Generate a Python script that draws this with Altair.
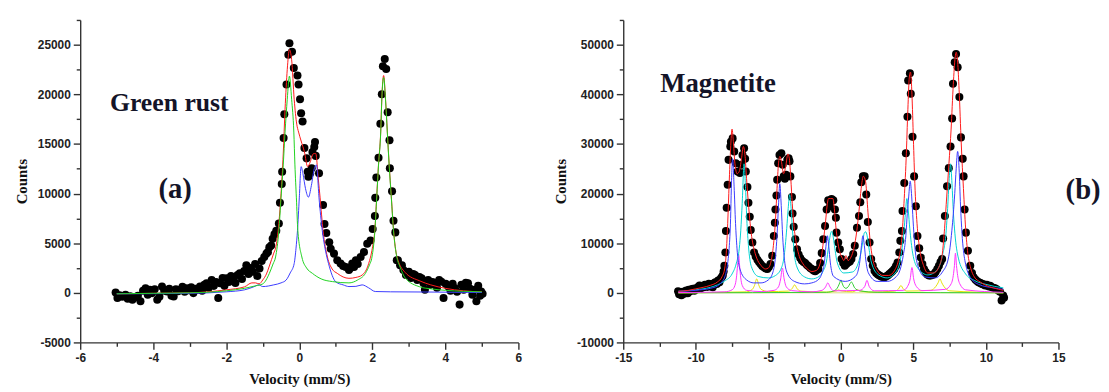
import altair as alt
import pandas as pd

# ---------------- Panel (a): Green rust ----------------
gr_v = [-5.03,-4.98,-4.92,-4.85,-4.76,-4.70,-4.63,-4.57,-4.50,-4.42,
        -4.35,-4.28,-4.21,-4.15,-4.09,-4.03,-3.96,-3.89,-3.83,-3.76,
        -3.70,-3.62,-3.56,-3.50,-3.44,-3.38,-3.32,-3.26,-3.20,-3.14,
        -3.08,-3.02,-2.96,-2.90,-2.84,-2.78,-2.72,-2.66,-2.60,-2.54,
        -2.48,-2.40,-2.34,-2.28,-2.22,-2.17,-2.10,-2.05,-1.99,-1.93,
        -1.87,-1.81,-1.75,-1.69,-1.63,-1.57,-1.51,-1.45,-1.39,-1.33,
        -1.27,-1.21,-1.15,-1.09,-1.03,-0.96,-0.90,-0.86,-0.82,-0.77,
        -0.73,-0.68,-0.63,-0.56,-0.53,-0.48,-0.47,-0.43,-0.41,-0.35,
        -0.30,-0.27,-0.20,-0.15,-0.05,-0.02,0.02,0.05,0.09,0.14,
        0.20,0.23,0.25,0.30,0.34,0.36,0.41,0.43,0.45,0.54,
        0.65,0.69,0.74,0.82,0.86,0.95,1.04,1.13,1.20,1.27,
        1.36,1.40,1.45,1.50,1.55,1.60,1.68,1.77,1.86,1.95,
        2.01,2.07,2.08,2.11,2.17,2.22,2.26,2.29,2.34,2.38,
        2.42,2.47,2.48,2.54,2.58,2.63,2.67,2.70,2.76,2.81,
        2.85,2.92,3.00,3.06,3.12,3.17,3.23,3.29,3.35,3.40,
        3.44,3.48,3.53,3.59,3.65,3.71,3.77,3.83,3.89,3.95,
        4.01,4.08,4.14,4.20,4.26,4.32,4.39,4.44,4.50,4.56,
        4.62,4.68,4.74,4.80,4.85,4.90,4.95,4.98,5.02]
gr_counts = [30,-530,-250,-400,-200,-600,-350,-700,-450,-300,
             -860,200,470,-200,300,-30,350,-700,-400,630,
             200,130,400,-300,-370,350,150,300,600,100,
             470,250,550,-30,400,300,630,200,800,960,
             500,1290,700,1100,-530,960,1500,700,1460,1100,
             1700,1290,1000,1800,1960,1400,2200,2780,1900,2500,
             2120,2900,1700,2450,3200,3600,3950,4100,4600,4770,
             5440,5900,6260,6990,9080,10960,12200,15600,18000,21000,
             24000,25150,24300,22660,21900,21000,19500,18100,17260,14600,
             13550,12200,11700,12050,12550,14200,14700,15200,13800,12050,
             8850,6930,6030,5100,4440,3950,3280,2950,2700,2610,
             2290,2500,2950,2600,3280,2900,3610,4100,4940,5270,
             6430,7750,9570,11630,13620,17030,20010,22830,23560,22560,
             18190,15380,12550,10240,7260,6090,3280,3280,2780,2780,
             2290,1790,2120,1500,1900,1790,1300,1600,1460,1000,
             300,1200,1290,800,1100,960,500,1300,1120,-530,
             900,630,200,900,470,100,-1190,800,300,1000,
             960,400,-200,300,-860,700,-300,130,-100]

gr_red_v = [-5.0,-4.0,-3.0,-2.0,-1.5,-1.3,-1.2,-1.1,-1.0,-0.9,
            -0.82,-0.7,-0.65,-0.56,-0.5,-0.44,-0.39,-0.33,-0.27,-0.21,
            -0.14,-0.07,-0.02,0.05,0.14,0.23,0.3,0.38,0.45,0.52,
            0.57,0.65,0.77,0.9,1.04,1.2,1.36,1.55,1.72,1.9,
            2.0,2.07,2.12,2.17,2.23,2.26,2.31,2.36,2.41,2.46,
            2.52,2.58,2.67,2.9,3.3,3.6,4.0,4.5,5.0]
gr_red_c = [-100,-50,0,300,600,1000,1000,900,1300,1900,
            2700,4000,4500,7000,10000,14000,18500,22500,24500,23500,
            19500,17000,16200,15300,14200,12700,13200,14000,14050,11500,
            9570,6260,3610,2400,1960,1600,1460,1550,1790,2950,
            4500,6400,9700,13000,16300,19600,21900,19600,16300,13000,
            9700,6400,3700,2050,1200,800,450,200,100]

gr_green_v = [-5.0,-4.0,-3.0,-2.0,-1.5,-1.2,-1.0,-0.82,-0.72,-0.65,
              -0.56,-0.5,-0.44,-0.39,-0.33,-0.27,-0.21,-0.15,-0.12,-0.08,
              -0.04,0.07,0.2,0.36,0.6,0.91,1.36,1.6,1.81,1.92,
              1.99,2.07,2.12,2.17,2.23,2.26,2.31,2.36,2.41,2.46,
              2.52,2.58,2.67,2.76,2.9,3.3,3.6,4.0,4.5,5.0]
gr_green_c = [-100,-50,0,200,450,700,900,1960,2900,3610,
              6260,9570,12890,16200,19510,21840,19510,16200,12890,9570,
              6260,3610,2500,1960,1400,1130,1000,1300,1960,2800,
              3610,6260,9570,12890,16200,19510,21700,19510,16200,12890,
              9570,6260,3610,2600,1500,600,400,250,150,100]

gr_blue_v = [-5.0,-3.0,-2.0,-1.5,-1.25,-1.11,-1.0,-0.7,-0.5,-0.36,
             -0.25,-0.14,-0.09,-0.05,0.0,0.05,0.1,0.17,0.25,0.33,
             0.41,0.47,0.54,0.63,0.72,0.8,1.0,1.2,1.36,1.55,
             1.72,1.9,2.08,2.5,3.5,5.0]
gr_blue_c = [-100,-50,100,300,600,800,630,800,1000,1290,
             2000,2950,4500,6260,9570,12720,12000,10500,9640,10800,
             12500,12890,9570,6260,4200,2950,1100,800,630,650,
             800,500,130,100,80,30]

# ---------------- Panel (b): Magnetite ----------------
mg_v = [-11.22,-11.15,-11.05,-10.99,-10.90,-10.80,-10.72,-10.65,-10.55,-10.48,
        -10.40,-10.30,-10.19,-10.10,-10.00,-9.90,-9.82,-9.74,-9.65,-9.55,
        -9.45,-9.37,-9.28,-9.20,-9.10,-9.00,-8.92,-8.83,-8.75,-8.65,
        -8.55,-8.46,-8.37,-8.28,-8.20,-8.14,-8.08,-8.03,-7.96,-7.92,
        -7.87,-7.80,-7.74,-7.62,-7.58,-7.46,-7.35,-7.24,-7.12,-6.96,
        -6.87,-6.78,-6.67,-6.60,-6.55,-6.44,-6.37,-6.28,-6.21,-6.10,
        -5.98,-5.87,-5.75,-5.64,-5.53,-5.42,-5.30,-5.18,-5.07,-4.96,
        -4.85,-4.73,-4.62,-4.55,-4.51,-4.44,-4.39,-4.32,-4.23,-4.10,
        -4.01,-3.94,-3.86,-3.78,-3.69,-3.60,-3.54,-3.48,-3.37,-3.33,
        -3.25,-3.14,-3.02,-2.91,-2.80,-2.69,-2.57,-2.46,-2.34,-2.23,
        -2.11,-2.00,-1.88,-1.77,-1.66,-1.55,-1.43,-1.32,-1.21,-1.09,
        -0.98,-0.87,-0.75,-0.64,-0.52,-0.41,-0.34,-0.30,-0.18,-0.07,
        0.05,0.16,0.27,0.38,0.50,0.62,0.73,0.85,0.96,1.11,
        1.25,1.34,1.41,1.52,1.64,1.75,1.86,1.98,2.09,2.20,
        2.32,2.43,2.55,2.66,2.78,2.89,3.00,3.11,3.23,3.34,
        3.46,3.57,3.69,3.80,3.91,4.03,4.10,4.21,4.25,4.37,
        4.48,4.59,4.64,4.76,4.82,4.94,5.05,5.17,5.28,5.40,
        5.51,5.62,5.73,5.85,5.96,6.08,6.19,6.31,6.42,6.53,
        6.65,6.76,6.87,6.98,7.05,7.17,7.32,7.44,7.56,7.67,
        7.73,7.85,7.94,8.05,8.17,8.28,8.40,8.46,8.53,8.62,
        8.76,8.92,9.04,9.15,9.27,9.38,9.49,9.60,9.72,9.83,
        9.95,10.06,10.17,10.29,10.40,10.51,10.63,10.74,10.85,10.97,
        11.08,11.19,11.25]
mg_counts = [300,-300,100,-500,200,-200,300,470,-100,600,
             300,700,800,400,900,700,1200,1470,900,1300,
             1100,1600,1470,1200,1800,1300,1700,1130,1900,2100,
             1800,2500,2130,2900,3200,3470,4300,5470,8130,12470,
             17130,21800,26800,29500,30470,31130,28500,26130,24470,24130,
             25800,27800,29130,27000,24470,21330,18130,15330,12670,10130,
             8130,7300,6670,6200,5800,5400,5130,4900,4800,5200,
             5800,7470,11470,14130,16800,19600,22800,26130,27800,28130,
             25800,23470,23000,23800,26800,27130,26500,23470,19330,16000,
             13330,10800,8800,7700,7000,6500,6200,6000,5600,5330,
             5000,4800,4500,4330,4600,4800,6000,8000,10800,13470,
             16800,18670,17470,18930,18670,16800,15130,12130,10130,8800,
             6800,6000,5470,5800,6130,6300,6800,7800,9470,13130,
             15470,18270,22270,23470,23470,19800,14270,10130,6800,5500,
             4470,4000,3700,3470,3300,3200,3130,3300,3500,3800,
             4100,4400,4800,5400,6130,8130,10470,12470,16470,22130,
             28130,35470,42800,44270,40130,31470,23470,17470,11470,9000,
             7130,5800,4800,4200,3700,3470,3500,3600,3800,4200,
             4800,5470,6200,6800,10930,15470,21470,25130,29470,35130,
             42130,46470,48130,45470,39470,31330,27000,23470,16800,12130,
             8470,5470,4000,3130,2700,2400,2130,2000,1800,1700,
             1470,1600,1300,1400,1130,1000,900,700,470,200,
             -1530,-530,-1000]

mg_red_v = [-11.2,-10.5,-10.0,-9.5,-9.0,-8.5,-8.2,-8.0,-7.9,-7.8,
            -7.7,-7.6,-7.5,-7.4,-7.3,-7.15,-7.0,-6.85,-6.72,-6.6,
            -6.5,-6.4,-6.3,-6.2,-6.0,-5.8,-5.5,-5.2,-5.0,-4.8,
            -4.65,-4.5,-4.4,-4.3,-4.2,-4.1,-3.95,-3.8,-3.65,-3.55,
            -3.45,-3.35,-3.25,-3.1,-2.9,-2.6,-2.3,-2.0,-1.7,-1.5,
            -1.35,-1.2,-1.05,-0.95,-0.85,-0.7,-0.55,-0.45,-0.35,-0.2,
            -0.05,0.1,0.2,0.35,0.5,0.7,0.9,1.1,1.25,1.4,
            1.55,1.7,1.85,2.0,2.2,2.5,2.9,3.3,3.7,4.0,
            4.2,4.35,4.5,4.62,4.72,4.8,4.9,5.0,5.1,5.25,
            5.45,5.7,6.0,6.4,6.8,7.0,7.15,7.3,7.45,7.6,
            7.75,7.88,7.95,8.05,8.15,8.3,8.45,8.6,8.75,8.95,
            9.2,9.6,10.0,10.5,11.2]
mg_red_c = [300,500,800,1100,1500,2200,3200,5000,8000,14000,
            22000,29000,33000,30000,26000,24000,24500,27000,29500,27500,
            23000,19000,15500,12500,9000,7000,5500,4800,5000,6500,
            9500,15000,21000,26000,27500,26500,24000,25500,28000,27000,
            23000,18000,14000,10500,7700,5800,4800,4300,4500,5300,
            7000,10500,14500,17500,19000,19000,19000,17000,13500,10000,
            8000,7000,6500,7500,6500,7200,9000,12500,16500,21000,
            23500,22500,17000,11000,6800,4500,3500,3500,4500,7000,
            11000,18000,27000,37000,43500,44500,40000,31000,22000,14000,
            8500,5500,4000,4000,5500,8000,13000,19500,26000,33000,
            42000,47500,48500,46500,41000,30000,21000,13000,8000,5000,
            3200,2200,1500,1000,500]

mg_blue_v = [-11.2,-10.0,-9.0,-8.5,-8.2,-8.0,-7.8,-7.7,-7.6,-7.55,
             -7.46,-7.36,-7.26,-7.16,-6.96,-6.5,-6.0,-5.5,-5.0,-4.7,
             -4.5,-4.4,-4.3,-4.21,-4.11,-4.01,-3.91,-3.7,-3.2,-2.5,
             -2.0,-1.5,-1.3,-1.13,-1.03,-0.93,-0.83,-0.73,-0.5,0.3,
             1.0,1.2,1.32,1.42,1.52,1.62,1.72,1.9,2.5,3.2,
             3.8,4.1,4.3,4.48,4.58,4.68,4.78,4.88,4.98,5.08,
             5.3,5.8,6.5,7.0,7.4,7.65,7.85,7.95,8.05,8.15,
             8.25,8.35,8.55,9.0,9.5,10.5,11.2]
mg_blue_c = [300,500,900,1400,2200,3200,6000,9000,15000,21000,
             27000,21500,14000,9000,4800,2600,2000,2000,2600,4000,
             7500,11500,17500,22000,17600,11300,7300,4000,2300,1800,
             2000,2800,4000,6200,9300,11500,9300,6200,3300,2300,
             3300,4600,6600,9500,11500,9500,6600,4000,2300,2300,
             3200,4800,7500,11500,16000,19500,22500,19500,14500,10000,
             5500,3200,3000,4200,6800,12500,20000,25000,28500,25000,
             17500,12000,6500,2800,1700,1000,700]

mg_cyan_v = [-11.2,-10.0,-9.0,-8.5,-8.0,-7.5,-7.2,-7.0,-6.9,-6.8,
             -6.67,-6.57,-6.47,-6.37,-6.17,-5.7,-5.0,-4.5,-4.1,-3.93,
             -3.83,-3.73,-3.63,-3.53,-3.43,-3.33,-3.23,-3.0,-2.5,-2.0,
             -1.5,-1.2,-1.0,-0.84,-0.74,-0.64,-0.54,-0.44,-0.24,0.2,
             0.8,1.2,1.41,1.51,1.61,1.71,1.81,1.91,2.1,2.6,
             3.2,3.8,4.15,4.35,4.45,4.55,4.65,4.75,4.95,5.3,
             6.0,6.6,7.0,7.26,7.36,7.46,7.56,7.66,7.76,7.86,
             8.1,8.6,9.2,10.0,11.2]
mg_cyan_c = [300,600,1100,1600,2400,3800,6000,9000,12500,18000,
             26000,21000,14000,9500,5300,3300,3000,3500,5000,7000,
             9500,13000,17000,19800,17000,12500,8500,5000,3200,2800,
             3300,4500,6200,9500,11500,12400,11500,9500,6000,4000,
             4200,6000,8500,10300,12000,12300,11500,9500,6200,3600,
             3000,4200,7500,12500,16000,19000,16500,13000,8000,5000,
             3600,4500,7500,12500,17000,22500,26000,22000,16000,12000,
             7000,3800,2500,1700,1000]

mg_magenta_v = [-11.2,-8.0,-7.5,-7.3,-7.2,-7.12,-7.05,-6.98,-6.9,-6.8,
                -6.5,-5.5,-4.6,-4.3,-4.15,-4.03,-3.91,-3.76,-3.4,-2.0,
                -1.3,-1.05,-0.9,-0.75,-0.5,1.3,1.65,1.8,1.95,2.3,
                4.3,4.6,4.78,4.9,5.02,5.2,5.6,7.2,7.6,7.75,
                7.83,7.9,7.97,8.05,8.2,8.6,11.2]
mg_magenta_c = [50,200,600,1500,3000,5500,7800,5500,3000,1500,
                500,250,500,1200,2800,5000,2800,1200,450,200,
                500,1200,2000,1200,400,500,1300,2500,1300,400,
                500,1300,2800,5100,2800,1300,450,700,1800,3500,
                5500,8000,5500,3500,1800,600,100]

mg_yellow_v = [-11.2,-6.5,-6.1,-5.95,-5.8,-5.65,-5.5,-5.0,-3.6,-3.35,
               -3.19,-3.03,-2.8,-1.0,-0.3,-0.15,0.0,0.8,1.0,1.15,
               1.3,2.0,3.7,3.98,4.14,4.3,4.55,6.2,6.55,6.7,
               6.83,6.96,7.1,7.5,11.2]
mg_yellow_c = [0,200,700,1500,2800,1500,700,250,350,900,
               1600,900,350,150,400,600,400,200,400,600,
               400,150,350,800,1470,800,350,500,1300,2000,
               2800,2000,1300,400,0]

mg_green_v = [-11.2,-1.0,-0.4,-0.2,-0.08,0.0,0.08,0.2,0.35,0.5,
              0.62,0.72,0.82,0.95,1.3,2.5,11.2]
mg_green_c = [0,100,500,1200,2000,2600,2000,1200,900,1200,
              1800,2200,1800,1000,400,100,0]

mg_base_v = [-11.2, 11.2]
mg_base_c = [0, 0]

# axis tick values (major + minor)
gr_x_ticks = [-6, -5, -4, -3, -2, -1, 0, 1, 2, 3, 4, 5, 6]
gr_y_ticks = [-5000, -2500, 0, 2500, 5000, 7500, 10000, 12500, 15000,
              17500, 20000, 22500, 25000, 27500]
mg_x_ticks = [-15, -12.5, -10, -7.5, -5, -2.5, 0, 2.5, 5, 7.5, 10, 12.5, 15]
mg_y_ticks = [-10000, -5000, 0, 5000, 10000, 15000, 20000, 25000, 30000,
              35000, 40000, 45000, 50000, 55000]

gr_labels = ["Green rust", "(a)"]
gr_label_v = [-3.56, -3.40]
gr_label_c = [18300, 9600]
mg_labels = ["Magnetite", "(b)"]
mg_label_v = [-8.46, 16.7]
mg_label_c = [40400, 19000]


def df(v, c):
    return pd.DataFrame({"v": v, "c": c})


def make_panel(points, curves, texts, xdom, ydom, xticks, yticks,
               xmajor, ymajor, w, h):
    xaxis = alt.Axis(
        values=xticks, title="Velocity (mm/S)",
        labelExpr=f"datum.value % {xmajor} === 0 ? '' + datum.value : ''",
        tickSize={"condition": {"test": f"datum.value % {xmajor} === 0",
                                "value": 7}, "value": 4},
        titlePadding=9)
    yaxis = alt.Axis(
        values=yticks, title="Counts",
        labelExpr=f"datum.value % {ymajor} === 0 ? '' + datum.value : ''",
        tickSize={"condition": {"test": f"datum.value % {ymajor} === 0",
                                "value": 7}, "value": 4},
        titlePadding=8)
    X = alt.X("v:Q", scale=alt.Scale(domain=xdom, nice=False, zero=False),
              axis=xaxis)
    Y = alt.Y("c:Q", scale=alt.Scale(domain=ydom, nice=False, zero=False),
              axis=yaxis)
    layers = [alt.Chart(points).mark_circle(size=66, color="black",
                                             opacity=1).encode(x=X, y=Y)]
    for data, color in curves:
        layers.append(alt.Chart(data).mark_line(
            color=color, strokeWidth=1, interpolate="monotone",
            clip=True).encode(x=X, y=Y))
    for data, size in texts:
        layers.append(alt.Chart(data).mark_text(
            font="Liberation Serif", fontWeight="bold", fontSize=size,
            color="#141428", align="center", baseline="alphabetic"
        ).encode(x=X, y=Y, text="t:N"))
    return alt.layer(*layers).properties(width=w, height=h)


gr_text1 = pd.DataFrame({"v": gr_label_v[:1], "c": gr_label_c[:1], "t": gr_labels[:1]})
gr_text2 = pd.DataFrame({"v": gr_label_v[1:], "c": gr_label_c[1:], "t": gr_labels[1:]})
mg_text1 = pd.DataFrame({"v": mg_label_v[:1], "c": mg_label_c[:1], "t": mg_labels[:1]})
mg_text2 = pd.DataFrame({"v": mg_label_v[1:], "c": mg_label_c[1:], "t": mg_labels[1:]})

left = make_panel(
    df(gr_v, gr_counts),
    [(df(gr_red_v, gr_red_c), "#ff1a1a"),
     (df(gr_blue_v, gr_blue_c), "#3b3bff"),
     (df(gr_green_v, gr_green_c), "#1fd21f")],
    [(gr_text1, 26), (gr_text2, 29)],
    [-6, 6], [-5000, 27500], gr_x_ticks, gr_y_ticks, 2, 5000, 443, 326)

right = make_panel(
    df(mg_v, mg_counts),
    [(df(mg_base_v, mg_base_c), "#d6e07a"),
     (df(mg_yellow_v, mg_yellow_c), "#e6e000"),
     (df(mg_green_v, mg_green_c), "#33cc33"),
     (df(mg_magenta_v, mg_magenta_c), "#ff33ff"),
     (df(mg_cyan_v, mg_cyan_c), "#00d2d2"),
     (df(mg_blue_v, mg_blue_c), "#3b3bff"),
     (df(mg_red_v, mg_red_c), "#ff1a1a")],
    [(mg_text1, 27), (mg_text2, 29)],
    [-15, 15], [-10000, 55000], mg_x_ticks, mg_y_ticks, 5, 10000, 440, 326)

chart = alt.hconcat(left, right, spacing=31).properties(
    padding={"left": 6, "top": 4, "right": 0, "bottom": 0},
    background="white",
).configure_view(stroke=None).configure_axis(
    grid=False,
    domainColor="#333333", domainWidth=1.4,
    tickColor="#333333", tickWidth=1.4,
    labelFont="Liberation Sans", labelFontSize=12, labelFontWeight="bold",
    labelColor="#222222", labelPadding=3, labelOverlap=False, labelFlush=False,
    titleFont="Liberation Serif", titleFontSize=15, titleFontWeight="bold",
    titleColor="#111111",
)

chart.save("out.html", embed_options={"renderer": "svg", "actions": False})
